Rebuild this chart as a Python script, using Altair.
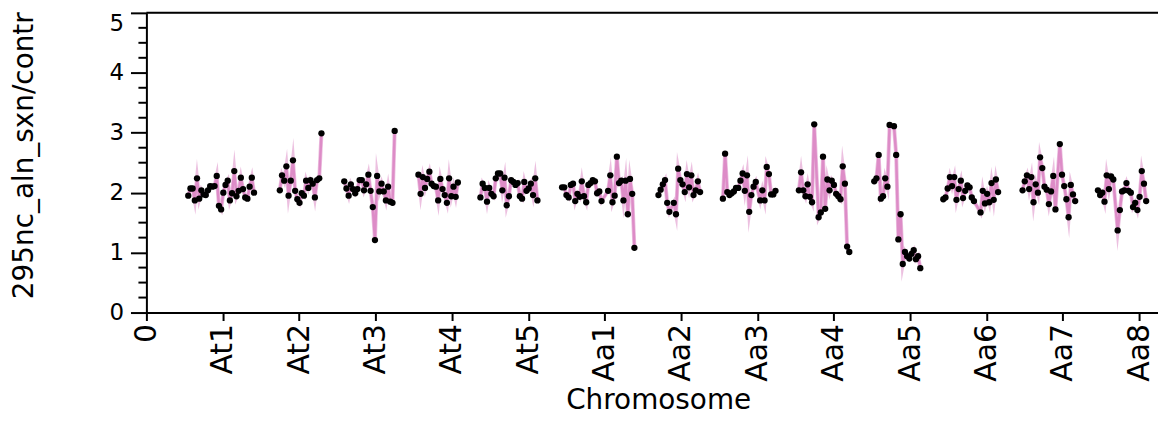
import altair as alt
import pandas as pd

CHROMS = ["At1", "At2", "At3", "At4", "At5", "Aa1", "Aa2", "Aa3", "Aa4", "Aa5", "Aa6", "Aa7", "Aa8"]
TICK_LABELS = ["0"] + CHROMS

# position of the first bin of each chromosome, relative to its tick (chromosome units)
START = {"At1": -0.452, "At2": -0.253, "At3": -0.409, "At4": -0.438, "At5": -0.626,
         "Aa1": -0.557, "Aa2": -0.295, "Aa3": -0.451, "Aa4": -0.456, "Aa5": -0.469,
         "Aa6": -0.565, "Aa7": -0.527, "Aa8": -0.540}
BIN = 0.0287

BINS = {
    "At1": list(range(0, 31)),
    "At2": list(range(0, 20)),
    "At3": list(range(0, 24)),
    "At4": list(range(0, 19)),
    "At5": list(range(0, 27)),
    "Aa1": list(range(0, 19)) + list(range(21, 34)),
    "Aa2": list(range(0, 6)) + list(range(7, 20)),
    "Aa3": list(range(0, 16)) + list(range(17, 25)),
    "Aa4": list(range(0, 8)) + list(range(9, 24)),
    "Aa5": list(range(0, 8)) + list(range(9, 22)),
    "Aa6": list(range(0, 15)) + list(range(17, 26)),
    "Aa7": list(range(0, 16)) + list(range(17, 25)),
    "Aa8": list(range(0, 8)) + list(range(9, 23)),
}

At1 = [1.95, 2.07, 2.07, 1.87, 2.24, 1.90, 2.04, 1.97, 1.96, 2.04, 2.11, 2.10, 2.11, 2.28, 1.78, 1.72,
       2.00, 2.13, 2.20, 1.87, 1.99, 2.36, 1.94, 2.03, 2.25, 2.06, 1.92, 1.90, 2.10, 2.25, 2.00]
At2 = [2.04, 2.29, 2.20, 2.44, 1.95, 2.20, 2.54, 2.03, 1.89, 1.83, 1.99, 1.95, 2.20, 2.08, 2.21, 2.15,
       1.92, 2.21, 2.24, 2.99]
At3 = [2.19, 2.07, 1.95, 2.14, 2.06, 1.99, 2.06, 2.21, 2.21, 2.04, 2.14, 2.30, 2.03, 1.76, 1.21, 2.28,
       2.02, 2.15, 2.02, 1.87, 2.10, 1.85, 1.83, 3.03]
At4 = [2.30, 1.98, 2.26, 2.08, 2.23, 2.35, 2.15, 2.11, 2.10, 1.87, 2.23, 2.06, 1.96, 1.83, 2.24, 1.94,
       2.10, 1.93, 2.17]
At5 = [1.92, 2.15, 2.08, 1.85, 2.08, 1.98, 1.94, 2.24, 2.32, 2.32, 2.04, 2.25, 1.79, 1.94, 2.21, 2.18,
       2.13, 2.16, 1.94, 1.90, 2.18, 2.03, 2.07, 2.15, 1.96, 2.24, 1.87]
Aa1 = [2.09, 2.09, 1.96, 1.92, 2.13, 2.15, 1.86, 1.98, 1.93, 2.19, 1.94, 1.84, 2.13, 2.16, 2.21, 2.19,
       1.99, 2.02, 1.86, 2.03, 2.29, 1.84, 1.95, 2.60, 2.16, 2.20, 1.87, 2.20, 1.64, 2.23, 1.98, 1.08]
Aa2 = [1.96, 2.05, 2.14, 2.21, 1.83, 1.68, 1.83, 1.64, 2.40, 2.21, 2.14, 2.01, 2.31, 2.09, 2.29, 1.96,
       2.04, 2.19, 2.01]
Aa3 = [1.90, 2.65, 2.01, 1.96, 1.99, 2.02, 2.08, 2.08, 2.20, 2.32, 2.03, 2.29, 1.68, 1.96, 2.10, 2.18,
       1.87, 2.04, 1.87, 2.43, 2.31, 1.97, 1.97, 2.03]
Aa4 = [2.04, 2.34, 2.04, 1.94, 2.14, 1.93, 1.84, 3.14, 1.59, 1.67, 2.60, 1.73, 2.22, 2.04, 2.20, 2.13,
       1.98, 1.94, 1.89, 2.44, 2.15, 1.10, 1.01]
Aa5 = [2.19, 2.24, 2.63, 1.90, 1.94, 2.24, 2.10, 3.13, 3.11, 2.63, 1.22, 1.64, 0.81, 1.01, 0.94, 0.90,
       0.98, 1.04, 0.89, 0.94, 0.74]
Aa6 = [1.89, 1.92, 2.07, 2.26, 2.11, 2.26, 1.88, 2.06, 2.20, 1.91, 2.03, 2.12, 2.09, 1.92, 1.86, 1.67,
       2.03, 1.82, 1.98, 1.84, 2.16, 1.88, 2.22, 2.01]
Aa7 = [2.04, 2.19, 2.29, 2.06, 2.26, 1.84, 2.14, 2.00, 2.59, 2.41, 2.10, 2.05, 1.81, 2.02, 2.28, 1.72,
       2.81, 2.30, 2.11, 1.89, 1.59, 2.13, 1.97, 1.86]
Aa8 = [2.04, 1.96, 2.00, 1.85, 2.29, 2.06, 2.27, 2.22, 1.37, 1.71, 2.02, 2.04, 2.16, 2.03, 2.00, 1.76,
       1.83, 1.71, 1.93, 2.36, 2.15, 1.86]

VALUES = {"At1": At1, "At2": At2, "At3": At3, "At4": At4, "At5": At5, "Aa1": Aa1, "Aa2": Aa2,
          "Aa3": Aa3, "Aa4": Aa4, "Aa5": Aa5, "Aa6": Aa6, "Aa7": Aa7, "Aa8": Aa8}

Y_MAJOR = [0, 1, 2, 3, 4, 5]
Y_MINOR = [k / 4 for k in range(0, 21) if k % 4 != 0]

rows = []
for i, c in enumerate(CHROMS, start=1):
    for b, v in zip(BINS[c], VALUES[c]):
        rows.append({"chrom": c, "pos": i + START[c] + b * BIN, "ratio": v})
df = pd.DataFrame(rows)

W, H = 1016, 301
XMAX = W / 76.7
FONT = "DejaVu Sans"
PINK = "#dd8cc7"

label_expr = "[" + ",".join("'" + s + "'" for s in TICK_LABELS) + "][datum.value]"

xscale = alt.Scale(domain=[0, XMAX], nice=False, zero=False)
yscale = alt.Scale(domain=[0, 5], nice=False)

x_enc = alt.X("pos:Q", scale=xscale, title="Chromosome",
              axis=alt.Axis(values=list(range(len(TICK_LABELS))), labelExpr=label_expr,
                            labelAngle=-90, labelFont=FONT, labelFontSize=30, labelColor="black",
                            labelPadding=3, tickSize=8, tickWidth=2, tickColor="black",
                            domainWidth=2, domainColor="black", grid=False,
                            titleFont=FONT, titleFontSize=28, titleFontWeight="normal",
                            titleColor="black", titleX=514, titleY=96, titleBaseline="alphabetic",
                            labelFlush=False, labelOverlap=False))
y_axis = alt.Axis(values=Y_MAJOR, labelFont=FONT, labelFontSize=23, labelColor="black",
                  labelPadding=7, tickSize=16, tickWidth=2, tickColor="black",
                  labelBaseline={"condition": {"test": "datum.value == 5", "value": "top"},
                                 "value": "middle"},
                  domainWidth=2, domainColor="black", grid=False,
                  titleFont=FONT, titleFontSize=28, titleFontWeight="normal",
                  titleColor="black", titleAngle=270, titleX=-122, titleY=143,
                  titleAlign="center", titleBaseline="middle", labelFlush=False)
y_enc = alt.Y("ratio:Q", scale=yscale, title="295nc_aln_sxn/contr", axis=y_axis)

base = alt.Chart(df)

halo = base.mark_line(color=PINK, strokeWidth=4, opacity=0.55, strokeJoin="miter",
                      strokeMiterLimit=12).encode(x=x_enc, y=y_enc, detail="chrom:N", order="pos:Q")
line = base.mark_line(color=PINK, strokeWidth=2.5, strokeJoin="round").encode(
    x=x_enc, y=y_enc, detail="chrom:N", order="pos:Q")
pts = base.mark_circle(color="black", size=40, opacity=1).encode(x=x_enc, y=y_enc)

minor = alt.Chart(pd.DataFrame({"ratio": Y_MINOR})).mark_rule(color="black", strokeWidth=2).encode(
    y=y_enc, x=alt.value(-8), x2=alt.value(0))
top = alt.Chart(pd.DataFrame({"ratio": [5]})).mark_rule(color="black", strokeWidth=2).encode(
    y=y_enc, x=alt.value(0), x2=alt.value(W))

chart = alt.layer(halo, line, pts, minor, top).properties(
    width=W, height=H,
    autosize=alt.AutoSizeParams(type="none"),
    padding={"left": 139, "top": 4, "right": 0, "bottom": 98},
).configure_view(stroke=None).configure(background="white")

chart.save("out.html", embed_options={"renderer": "svg", "actions": False})
